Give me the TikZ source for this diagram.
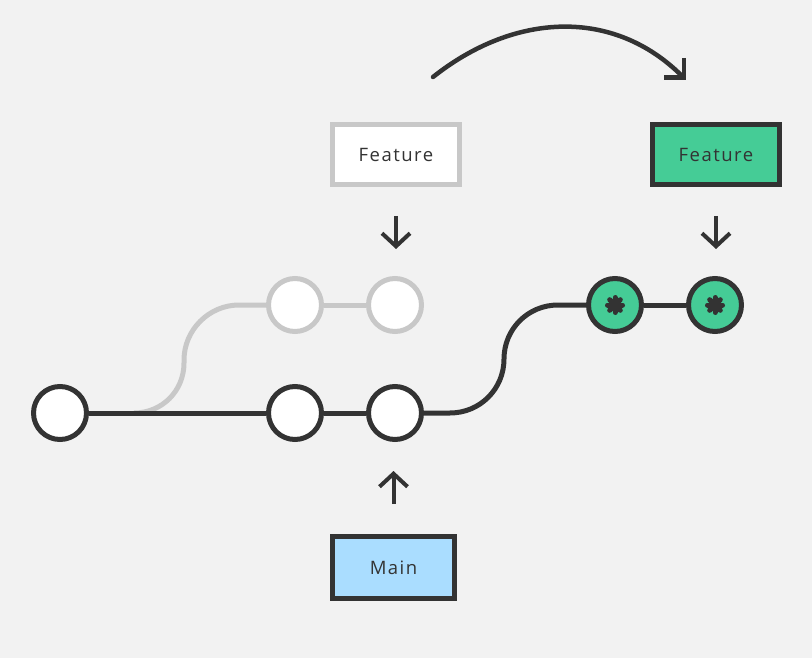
\documentclass[tikz,border=0pt]{standalone}
\usepackage{fontspec}
\setmainfont{Open Sans}[LetterSpace=8]
\usetikzlibrary{arrows.meta}
\definecolor{bg}{HTML}{F2F2F2}
\definecolor{ink}{HTML}{333333}
\definecolor{pale}{HTML}{C8C8C8}
\definecolor{fgreen}{HTML}{45CC96}
\definecolor{mblue}{HTML}{AADDFF}
\newcommand\flowermark[1]{%
  \foreach \a in {0,45,90,135}
    \draw[ink, line width=5pt, line cap=round] (#1) ++(\a:7.5) -- ++(\a+180:15);
  \fill[ink] (#1) circle (5);}
\begin{document}
\begin{tikzpicture}[x=1pt,y=-1pt,
  commit/.style={circle, draw=ink, line width=5pt, fill=white, minimum size=53pt, inner sep=0pt},
  ghost/.style={commit, draw=pale},
  newc/.style={commit, fill=fgreen},
  tagbox/.style={rectangle, line width=5pt, draw=ink, minimum width=127pt, minimum height=60pt, inner sep=0pt, font=\fontsize{18.5}{22}\selectfont, text=ink},
  link/.style={line width=5pt, draw=ink},
  plink/.style={line width=5pt, draw=pale},
  pointer/.style={line width=4pt, draw=ink, -{Straight Barb[length=13pt,width=28pt]}}]
\fill[bg] (0,0) rectangle (812,658);
\useasboundingbox (0,0) rectangle (812,658);
% commits
\node[commit] (c1) at (60,413) {};
\node[commit] (c2) at (295,413) {};
\node[commit] (c3) at (395,413) {};
\node[ghost] (g1) at (295,305) {};
\node[ghost] (g2) at (395,305) {};
\node[newc] (f1) at (615,305) {};
\node[newc] (f2) at (715,305) {};
% labels
\node[tagbox, draw=pale, fill=white] (fa) at (396,154.5) {Feature};
\node[tagbox, fill=fgreen] (fb) at (716,154.5) {Feature};
\node[tagbox, fill=mblue, minimum width=122pt, minimum height=62pt] (mb) at (393.5,567.5) {Main};
% connectors
\coordinate (b0) at (134,413);
\draw[plink] (b0) .. controls (162,413) and (184,391) .. (184,363) -- (184,360) .. controls (184,330) and (209,305) .. (239,305) -- (g1.west);
\draw[plink] (g1) -- (g2);
\draw[link] (c1) -- (c2);
\draw[link] (c2) -- (c3);
\coordinate (r0) at (450,413);
\coordinate (r1) at (558,305);
\draw[link] (c3.east) -- (r0) .. controls (480,413) and (504,389) .. (504,359) .. controls (504,329) and (528,305) .. (r1) -- (f1.west);
\draw[link] (f1) -- (f2);
\flowermark{f1}
\flowermark{f2}
% pointers
\draw[pointer, shorten <=29pt, shorten >=27pt] (fa.south) -- (fa.south |- g2.north);
\draw[pointer, shorten <=29pt, shorten >=27pt] (fb.south) -- (fb.south |- f2.north);
\draw[pointer, shorten <=30pt, shorten >=29pt] (mb.north) -- (mb.north |- c3.south);
% move arrow
\coordinate (ms) at (433,77);
\coordinate (me) at (686,80);
\draw[line width=4.5pt, draw=ink, line cap=round, -{Straight Barb[length=14pt,width=28pt]}] (ms) .. controls (515,12) and (614,8) .. (me);
\end{tikzpicture}
\end{document}
